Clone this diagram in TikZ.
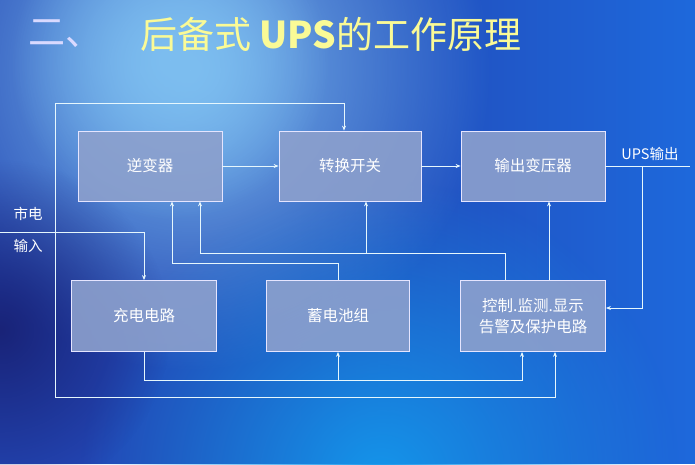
\documentclass[tikz,border=0pt]{standalone}
\usepackage{fontspec}
\setmainfont{Noto Sans CJK SC}
\newfontfamily\cjk{Noto Sans CJK SC}
\usetikzlibrary{arrows.meta,fadings}
\tikzfading[name=softglow, inner color=transparent!0, outer color=transparent!100]
\definecolor{bgbase}{RGB}{35,70,180}
\definecolor{bgright}{RGB}{30,105,220}
\definecolor{glowA}{RGB}{125,190,240}
\definecolor{glowB}{RGB}{20,150,235}
\definecolor{darkA}{RGB}{25,35,120}
\definecolor{boxfill}{RGB}{140,160,205}
\definecolor{ttl}{RGB}{250,250,150}
\tikzset{
  blk/.style={draw=white!90!blue,line width=0.8pt,fill=boxfill,fill opacity=0.9,text opacity=1,text=white,font=\cjk\fontsize{15.5}{21}\selectfont,align=center,inner sep=0pt},
  wire/.style={draw=white!90!cyan,line width=0.8pt},
  arr/.style={wire,-{Stealth[length=5pt,width=4pt]}},
  lbl/.style={text=white,font=\cjk\fontsize{14.5}{16}\selectfont,inner sep=0pt}
}
\begin{document}
\begin{tikzpicture}[x=1pt,y=-1pt]
\useasboundingbox (0,0) rectangle (695,464);
\fill[bgbase] (0,0) rectangle (695,464);
\fill[bgright, path fading=west] (300,0) rectangle (695,464);
\fill[glowA, path fading=softglow] (190,70) circle (300);
\fill[glowA, path fading=softglow] (170,60) circle (160);
\fill[glowB, path fading=softglow] (380,480) circle (300);
\fill[darkA, path fading=softglow] (0,330) circle (170);
% title
\node[anchor=west,inner sep=0pt,text=white!85!blue,font=\cjk\fontsize{37}{40}\selectfont] (t1) at (28,34) {二、};
\node[anchor=west,inner sep=0pt,text=ttl,font=\cjk\fontsize{37}{40}\selectfont] (t2) at (140,34) {后备式 \textbf{UPS}的工作原理};
% boxes
\node[blk,minimum width=144pt,minimum height=70pt] (inv) at (150,166) {逆变器};
\node[blk,minimum width=142pt,minimum height=70pt] (sw) at (350,166) {转换开关};
\node[blk,minimum width=144pt,minimum height=70pt] (tr) at (533,166) {输出变压器};
\node[blk,minimum width=145pt,minimum height=71pt] (chg) at (144,316) {充电电路};
\node[blk,minimum width=143pt,minimum height=71pt] (bat) at (338,316) {蓄电池组};
\node[blk,minimum width=145pt,minimum height=71pt] (ctl) at (533,316) {控制.监测.显示\\告警及保护电路};
% labels
\node[lbl] (sd) at (28,214) {市电};
\node[lbl] (sr) at (28,246) {输入};
\node[lbl,anchor=south] (out) at (650,161) {UPS输出};
\coordinate (inL) at (0,232);
\coordinate (outR) at (690,166);
% wires
\draw[arr] (inL) -| (chg.north);
\draw[arr] (55,232) -- (55,103) -| (sw.north -| 344,0);
\draw[arr] (55,232) -- (55,397) -| (ctl.south -| 555,0);
\draw[arr] (inv) -- (sw);
\draw[arr] (sw) -- (tr);
\draw[wire] (tr) -- (outR);
\draw[arr] (642,166) |- (ctl.east |- 0,308);
\draw[arr] (bat.north) -- (338,263) -| (inv.south -| 172,0);
\draw[arr] (ctl.north -| 505,0) -- (505,253) -| (inv.south -| 200,0);
\draw[arr] (366,253) -- (sw.south -| 366,0);
\draw[arr] (ctl.north -| 549,0) -- (tr.south -| 549,0);
\draw[arr] (chg.south) -- (144,380) -| (ctl.south -| 522,0);
\draw[arr] (338,380) -- (bat.south);
\end{tikzpicture}
\end{document}
